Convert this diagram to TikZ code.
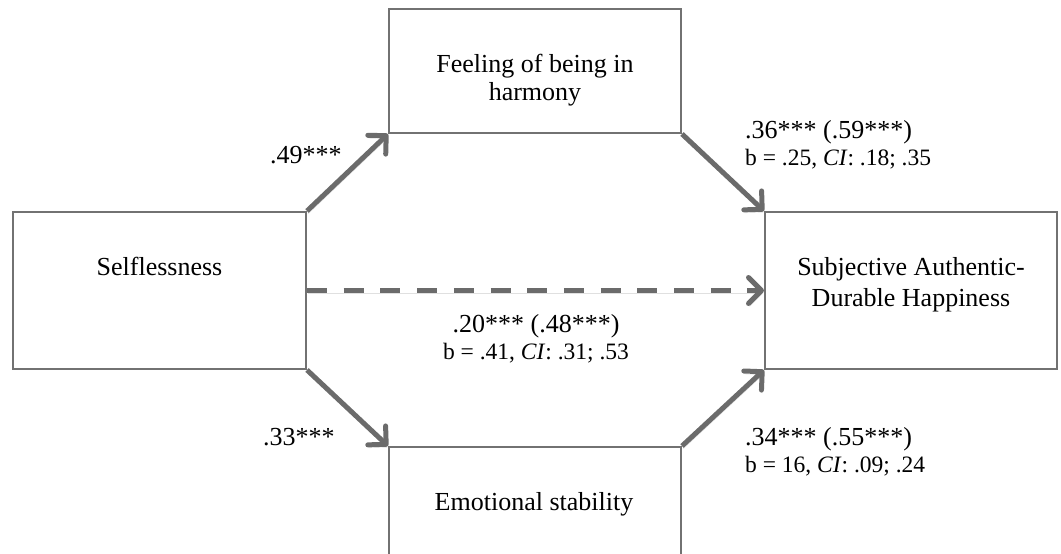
\documentclass[tikz,border=0pt]{standalone}
\usepackage{fontspec}
\setmainfont{Liberation Serif}
\usetikzlibrary{arrows.meta}
\definecolor{boxgray}{HTML}{727272}
\definecolor{arrgray}{HTML}{6B6B6B}
\tikzset{
  box/.style={draw=boxgray, line width=2pt, rectangle, inner sep=0pt, fill=white},
  lbl/.style={inner sep=0pt, font=\fontsize{26}{29}\selectfont, align=center},
  coef/.style={inner sep=0pt, font=\fontsize{26}{29}\selectfont},
  bline/.style={inner sep=0pt, font=\fontsize{23.5}{27}\selectfont},
  conn/.style={draw=arrgray, line width=5pt,
    -{Straight Barb[length=13pt,width=26pt,round]},
    preaction={draw=black, opacity=0.12, transform canvas={xshift=1pt,yshift=-3pt}}},
}
\begin{document}
\begin{tikzpicture}[x=1pt,y=-1pt]
\useasboundingbox (0,0) rectangle (1061,554);
\clip (0,0) rectangle (1061,554);
% boxes
\node[box, minimum width=293pt, minimum height=157pt] (self) at (159.5,290.5) {};
\node[box, minimum width=292pt, minimum height=124pt] (feel) at (535,71) {};
\node[box, minimum width=292pt, minimum height=157pt] (subj) at (911,290.5) {};
\node[box, minimum width=292pt, minimum height=124pt] (emo) at (535,509) {};
% box texts
\node[lbl] (tself) at (159.5,266) {Selflessness};
\node[lbl, font=\fontsize{26}{28}\selectfont] (tfeel) at (535,80) {Feeling of being in\\harmony};
\node[lbl, font=\fontsize{26}{31}\selectfont] (tsubj) at (911,285) {Subjective Authentic-\\Durable Happiness};
\node[lbl, anchor=base] (temo) at (534,510) {Emotional stability};
% connectors
\draw[conn] (self.north east) -- (feel.south west);
\draw[conn] (feel.south east) -- (subj.north west);
\draw[conn] (self.south east) -- (emo.north west);
\draw[conn] (emo.north east) -- (subj.south west);
\draw[conn, dash pattern=on 20pt off 16.7pt] (self.east) -- (subj.west);
% labels
\node[coef, anchor=base west] (l49) at (270,163) {.49***};
\node[coef, anchor=base west] (l33) at (263,445) {.33***};
\node[coef, anchor=base west] (l36) at (745,138) {.36*** (.59***)};
\node[bline, anchor=base west] (b36) at (745,165) {b = .25, \textit{CI}: .18; .35};
\node[coef, anchor=base west] (l34) at (745,445) {.34*** (.55***)};
\node[bline, anchor=base west] (b34) at (745,472) {b = 16, \textit{CI}: .09; .24};
\node[coef, anchor=base] (l20) at (536,332) {.20*** (.48***)};
\node[bline, anchor=base] (b20) at (536,359) {b = .41, \textit{CI}: .31; .53};
\end{tikzpicture}
\end{document}
